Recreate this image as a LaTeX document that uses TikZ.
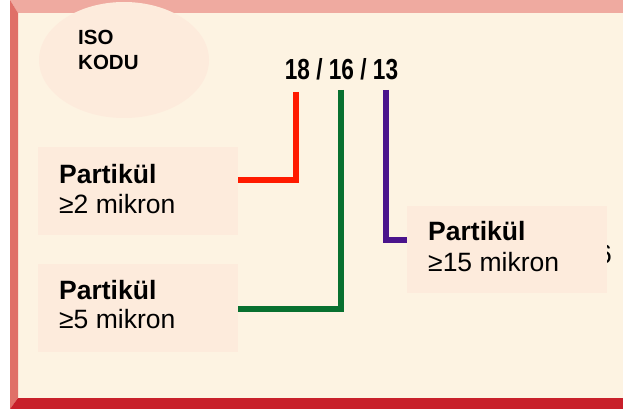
\documentclass[tikz,border=0pt]{standalone}
\usepackage{fontspec}
\setmainfont{Liberation Sans}
\usetikzlibrary{shapes.geometric}
\definecolor{cream}{HTML}{FDF3E2}
\definecolor{boxfill}{HTML}{FDEBDC}
\definecolor{topbar}{HTML}{EFAAA0}
\definecolor{leftbar}{HTML}{E07068}
\definecolor{botbar}{HTML}{C8202A}
\definecolor{lred}{HTML}{FF1A00}
\definecolor{lgreen}{HTML}{08702F}
\definecolor{lpurple}{HTML}{4A148C}
\tikzset{
  infobox/.style={fill=boxfill, draw=none, minimum width=200pt, minimum height=88pt, anchor=north west, inner sep=0pt},
  bigtext/.style={anchor=base west, inner sep=0pt, font=\fontsize{26.5}{30}\selectfont},
  boldtext/.style={anchor=base west, inner sep=0pt, font=\bfseries\fontsize{26.5}{30}\selectfont},
  conn/.style={line width=6pt, line join=miter, line cap=butt},
}
\begin{document}
\begin{tikzpicture}[x=1pt, y=-1pt]
\useasboundingbox (0,0) rectangle (623,409);
\fill[white] (0,0) rectangle (623,409);
% frame
\fill[cream] (18,13) rectangle (623,398);
\fill[topbar] (10,0) -- (623,0) -- (623,13) -- (18,13) -- cycle;
\fill[leftbar] (10,0) -- (18,13) -- (18,398) -- (10,409) -- cycle;
\fill[botbar] (10,409) -- (18,398) -- (623,398) -- (623,409) -- cycle;
% ISO ellipse
\node[ellipse, fill=boxfill, minimum width=170pt, minimum height=116pt, inner sep=0pt] (iso) at (124,60) {};
\node[anchor=base west, inner sep=0pt, font=\bfseries\fontsize{20.5}{25}\selectfont] (isot) at (78,45) {ISO};
\node[anchor=base west, inner sep=0pt, font=\bfseries\fontsize{20.5}{25}\selectfont] (kodu) at (78,70) {KODU};
% code
\node[anchor=base, inner sep=0pt, font=\bfseries\fontsize{29}{30}\selectfont] (code) at (341.5,80) {\scalebox{0.78}[1]{18 / 16 / 13}};
% hidden fragment
\node[anchor=base east, inner sep=0pt, font=\fontsize{26.5}{30}\selectfont] (frag) at (612,263) {6};
% boxes
\node[infobox] (b1) at (38,147) {};
\node[infobox] (b2) at (38,264) {};
\node[infobox, minimum height=87pt] (b3) at (407,206) {};
\node[boldtext] (b1a) at (59,183) {Partikül};
\node[bigtext] (b1b) at (59,213) {≥2 mikron};
\node[boldtext] (b2a) at (59,299) {Partikül};
\node[bigtext] (b2b) at (59,328) {≥5 mikron};
\node[boldtext] (b3a) at (428,240) {Partikül};
\node[bigtext] (b3b) at (428,271) {≥15 mikron};
% connectors
\coordinate (r0) at (296,92);
\coordinate (g0) at (341,90);
\coordinate (p0) at (386,90);
\draw[conn, lred] (r0) |- ([yshift=11pt]b1.east);
\draw[conn, lgreen] (g0) |- ([yshift=-1pt]b2.east);
\draw[conn, lpurple] (p0) |- ([yshift=9.5pt]b3.west);
\end{tikzpicture}
\end{document}
